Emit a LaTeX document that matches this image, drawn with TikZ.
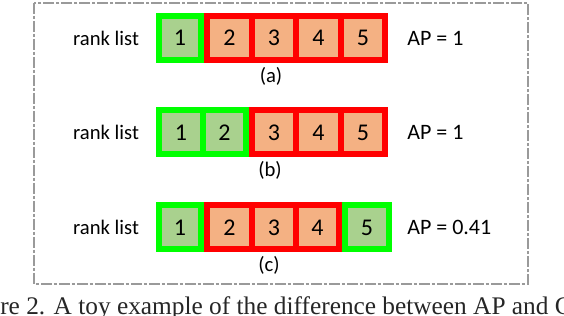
\documentclass[tikz,border=0pt]{standalone}
\usepackage{fontspec}
\setmainfont{Carlito}
\newfontfamily\capfont{Liberation Serif}
\definecolor{gline}{HTML}{00FF00}
\definecolor{rline}{HTML}{FF0000}
\definecolor{gfill}{HTML}{A9D18E}
\definecolor{rfill}{HTML}{F4B183}
\definecolor{frame}{HTML}{9A9A9A}
\tikzset{
  cell/.style={draw, line width=4.5pt, inner sep=0pt, minimum height=33pt,
    font=\fontsize{18}{20}\selectfont},
  gcell/.style={cell, draw=gline, fill=gfill},
  rcell/.style={cell, draw=rline, fill=rfill},
  lbl/.style={inner sep=0pt, font=\fontsize{15.5}{18}\selectfont},
  aplbl/.style={inner sep=0pt, anchor=west, font=\fontsize{16.5}{18}\selectfont},
}
\begin{document}
\begin{tikzpicture}[x=0.75pt,y=-0.75pt]
\useasboundingbox (0,0) rectangle (564,316);
\draw[frame, line width=1.5pt, dash pattern=on 8pt off 1.5pt on 2.5pt off 1.5pt] (34,3) rectangle (528,284);
% row (a)
\node[lbl] (la) at (106,38) {rank list};
\node[gcell, minimum width=31.5pt] (a1) at (180,38) {1};
\node[rcell, minimum width=33.75pt] (a2) at (229.5,38) {2};
\node[rcell, minimum width=33pt] (a3) at (274,38) {3};
\node[rcell, minimum width=33.75pt] (a4) at (318.5,38) {4};
\node[rcell, minimum width=33pt] (a5) at (363,38) {5};
\node[aplbl] (apa) at (407,38) {AP = 1};
\node[lbl] (capa) at (271,76) {(a)};
% row (b)
\node[lbl] (lb) at (106,132.5) {rank list};
\node[gcell, minimum width=33pt] (b1) at (181,132.5) {1};
\node[gcell, minimum width=32.25pt] (b2) at (224.5,132.5) {2};
\node[rcell, minimum width=33pt] (b3) at (274,132.5) {3};
\node[rcell, minimum width=33.75pt] (b4) at (318.5,132.5) {4};
\node[rcell, minimum width=33pt] (b5) at (363,132.5) {5};
\node[aplbl] (apb) at (407,132.5) {AP = 1};
\node[lbl] (capb) at (270,170) {(b)};
% row (c)
\node[lbl] (lc) at (106,227.5) {rank list};
\node[gcell, minimum width=31.5pt] (c1) at (180,227.5) {1};
\node[rcell, minimum width=33.75pt] (c2) at (229.5,227.5) {2};
\node[rcell, minimum width=33pt] (c3) at (274,227.5) {3};
\node[rcell, minimum width=32.25pt] (c4) at (317.5,227.5) {4};
\node[gcell, minimum width=33pt] (c5) at (367,227.5) {5};
\node[aplbl] (apc) at (407,227.5) {AP = 0.41};
\node[lbl] (capc) at (269,265) {(c)};
% caption (cropped)
\begin{scope}
\clip (0,0) rectangle (564,316);
\node[inner sep=0pt, anchor=base west, font=\capfont\fontsize{19}{22}\selectfont, text=black!85] (cap) at (0,315) {re 2. A toy example of the difference between AP and C};
\end{scope}
\end{tikzpicture}
\end{document}
